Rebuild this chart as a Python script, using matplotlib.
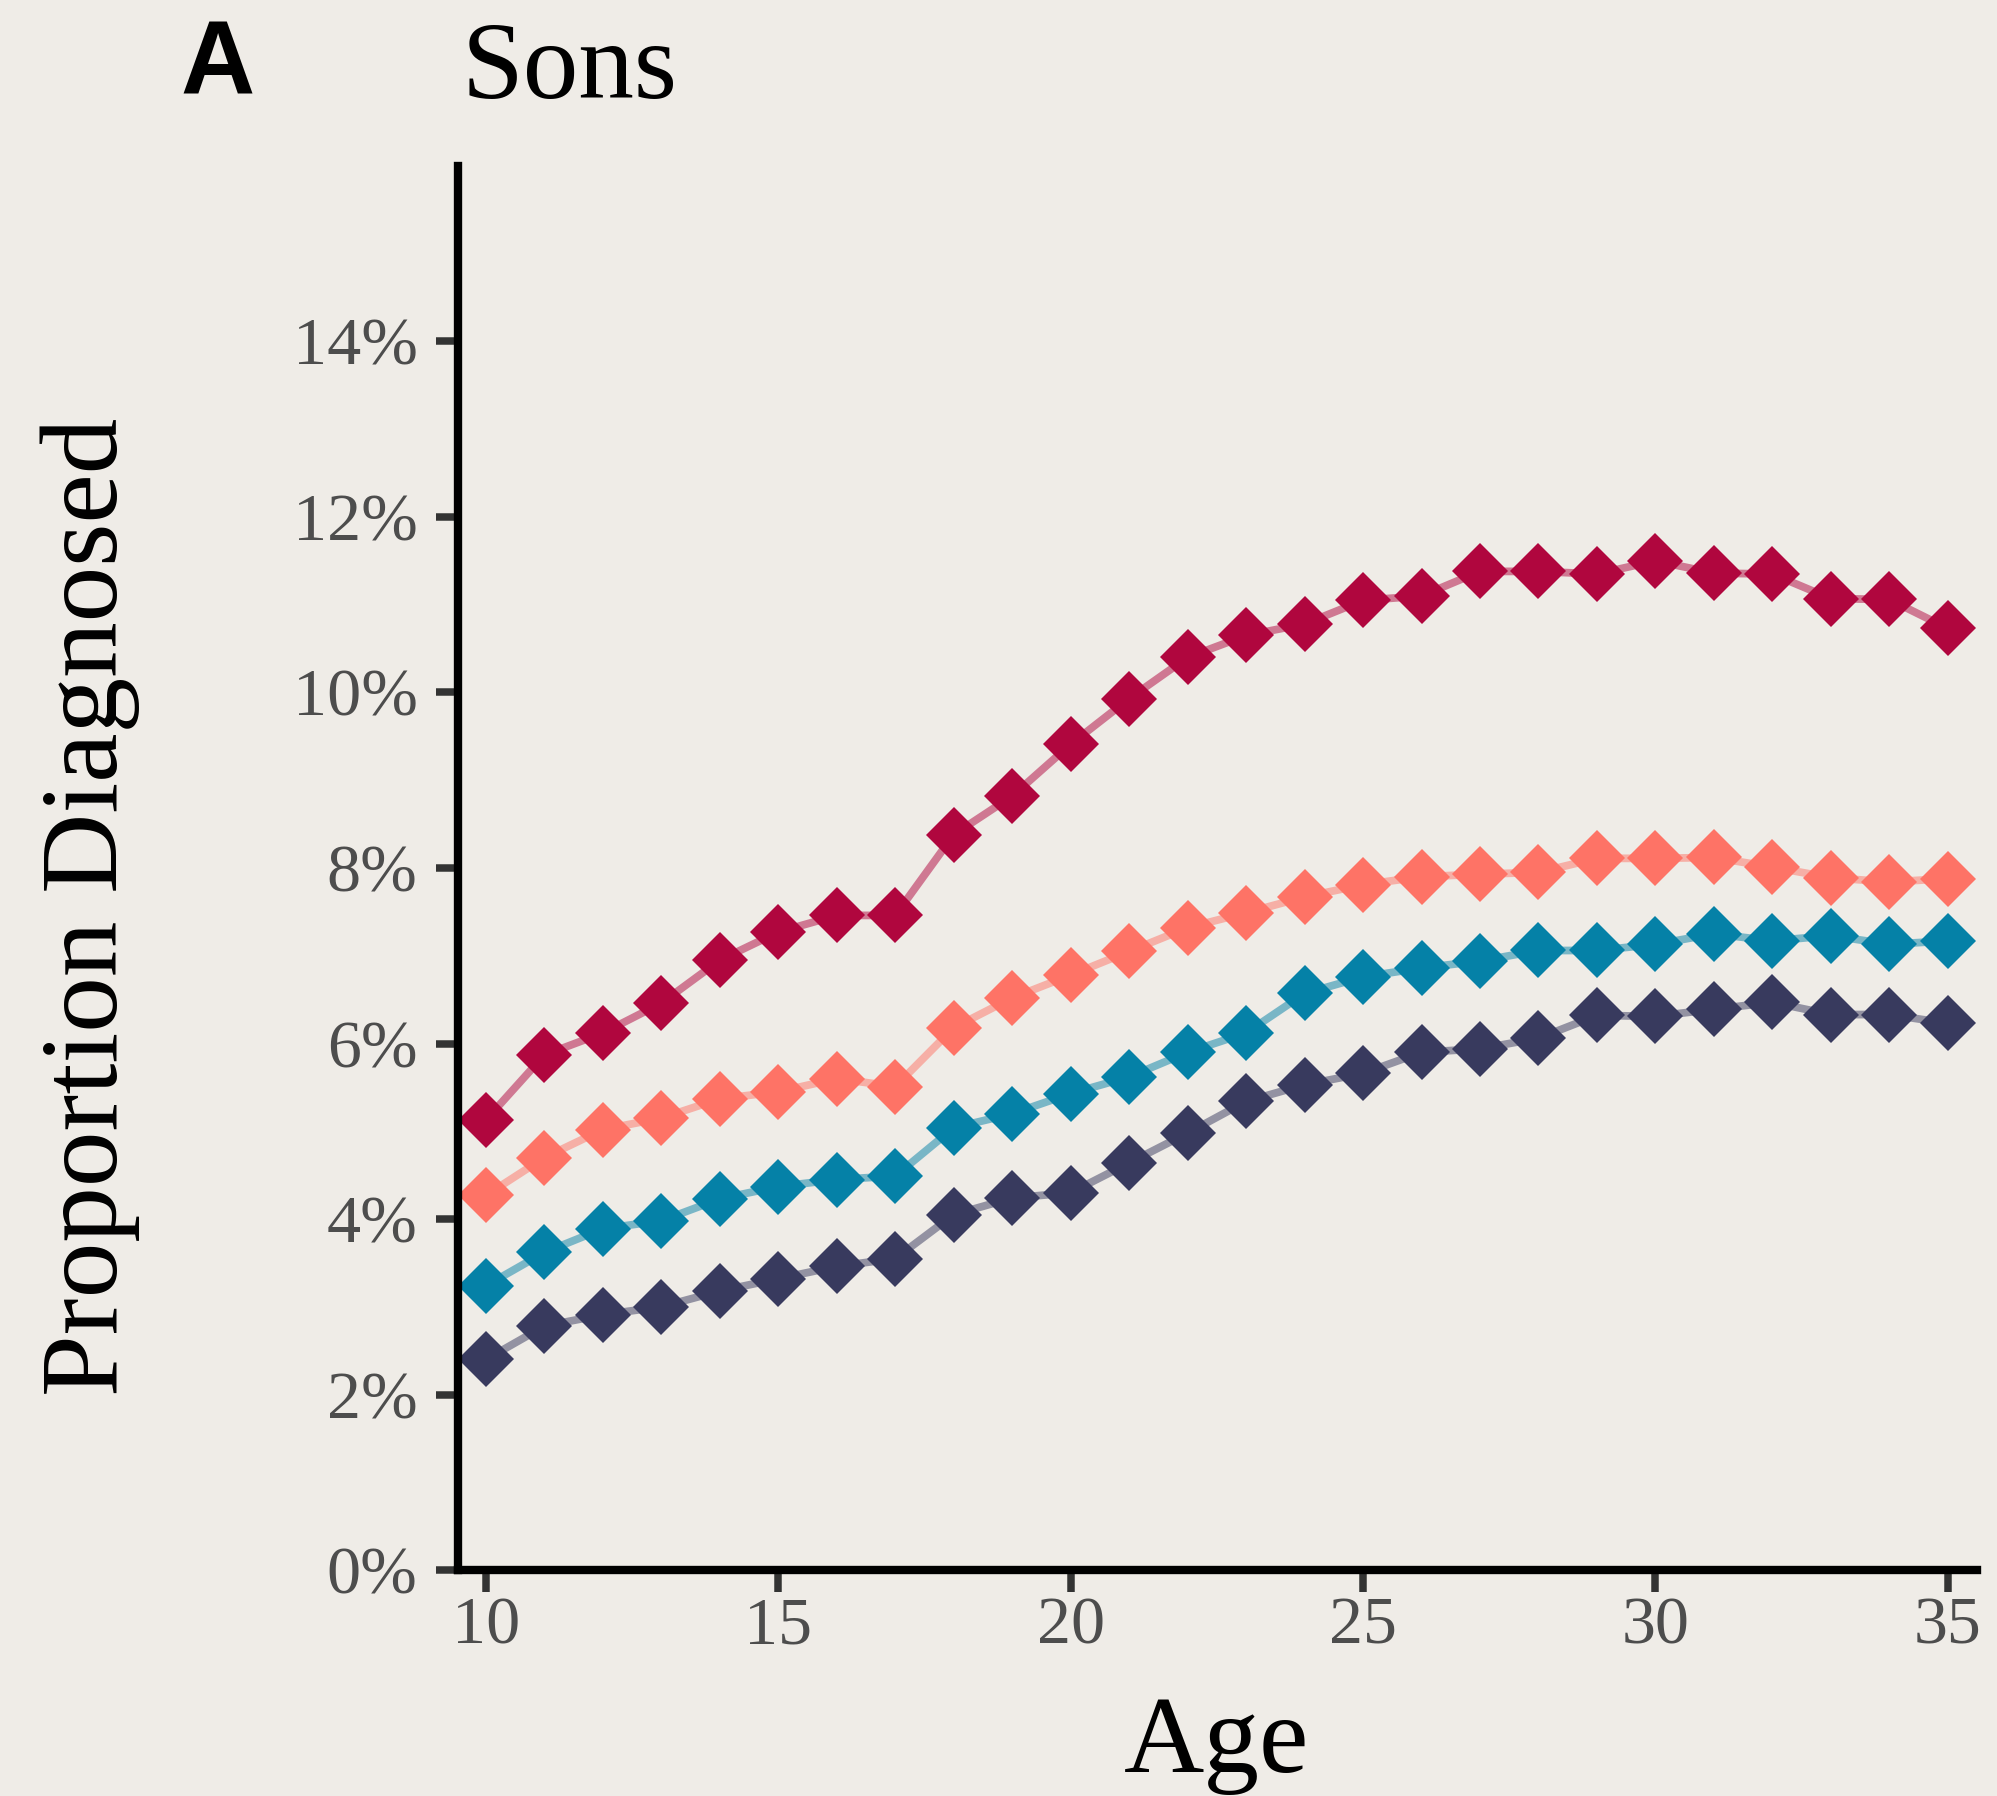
import matplotlib
matplotlib.use('Agg')
import matplotlib.pyplot as plt
from matplotlib.ticker import PercentFormatter
import numpy as np

# ages on the x axis
ages = np.arange(10, 36)

# proportion diagnosed (%) per group
crimson = [5.13, 5.87, 6.12, 6.46, 6.95, 7.27, 7.46, 7.46, 8.38, 8.82, 9.41, 9.93, 10.40,
           10.65, 10.78, 11.05, 11.10, 11.38, 11.38, 11.35, 11.50, 11.36, 11.35, 11.07, 11.06, 10.73]
coral = [4.27, 4.70, 5.02, 5.15, 5.37, 5.45, 5.60, 5.51, 6.18, 6.52, 6.78, 7.05, 7.32,
         7.49, 7.67, 7.81, 7.90, 7.93, 7.95, 8.11, 8.11, 8.12, 8.01, 7.89, 7.84, 7.88]
teal = [3.24, 3.62, 3.89, 3.98, 4.23, 4.37, 4.45, 4.49, 5.04, 5.20, 5.43, 5.62, 5.90,
        6.12, 6.57, 6.76, 6.86, 6.94, 7.06, 7.06, 7.13, 7.25, 7.17, 7.23, 7.13, 7.17]
navy = [2.40, 2.78, 2.91, 3.00, 3.18, 3.32, 3.46, 3.55, 4.05, 4.24, 4.30, 4.64, 4.98,
        5.34, 5.53, 5.66, 5.90, 5.94, 6.06, 6.32, 6.31, 6.39, 6.47, 6.33, 6.33, 6.23]

yticks = [0, 2, 4, 6, 8, 10, 12, 14]
xticks = [10, 15, 20, 25, 30, 35]

series = [crimson, coral, teal, navy]
colors = ['#B0063E', '#FE7366', '#0581A7', '#383A5E']

bg = '#EFECE7'
serif = ['Liberation Serif', 'DejaVu Serif']

plt.rc('font', family=serif)

fig = plt.figure(figsize=(1997 / 200, 1796 / 200), dpi=200, facecolor=bg)
ax = fig.add_axes([0.2293, 0.1258, 0.7607, 0.7818])
ax.set_facecolor(bg)

# lines underneath, then the diamonds
for vals, c in zip(series, colors):
    ax.plot(ages, vals, '-', color=c, lw=2.8, alpha=0.5, solid_capstyle='butt', zorder=2)
for vals, c in zip(series, colors):
    ax.plot(ages, vals, 'D', color=c, ms=14.5, mew=0, zorder=3)

ax.set_xlim(9.52, 35.5)
ax.set_ylim(0, 16)
ax.set_xticks(xticks)
ax.set_yticks(yticks)
ax.yaxis.set_major_formatter(PercentFormatter(xmax=100, decimals=0))

for s in ['top', 'right']:
    ax.spines[s].set_visible(False)
for s in ['left', 'bottom']:
    ax.spines[s].set_linewidth(3)
    ax.spines[s].set_color('black')
    ax.spines[s].set_zorder(4)

ax.tick_params(axis='both', direction='out', length=8, width=2.7, color='#333333',
               labelsize=24.5, labelcolor='#4D4D4D')
ax.tick_params(axis='y', pad=6.5)
ax.tick_params(axis='x', pad=1.5)

fig.text(0.0906, 0.9477, 'A', fontsize=37, fontweight='bold',
         family=['Liberation Sans', 'DejaVu Sans'], ha='left', va='baseline')
fig.text(0.2313, 0.9454, 'Sons', fontsize=40, ha='left', va='baseline')
fig.text(0.045, 0.495, 'Proportion Diagnosed', fontsize=40, rotation=90,
         ha='center', va='center')
fig.text(0.609, 0.0134, 'Age', fontsize=40, ha='center', va='baseline')

plt.savefig('out.png', dpi=200, facecolor=bg)
